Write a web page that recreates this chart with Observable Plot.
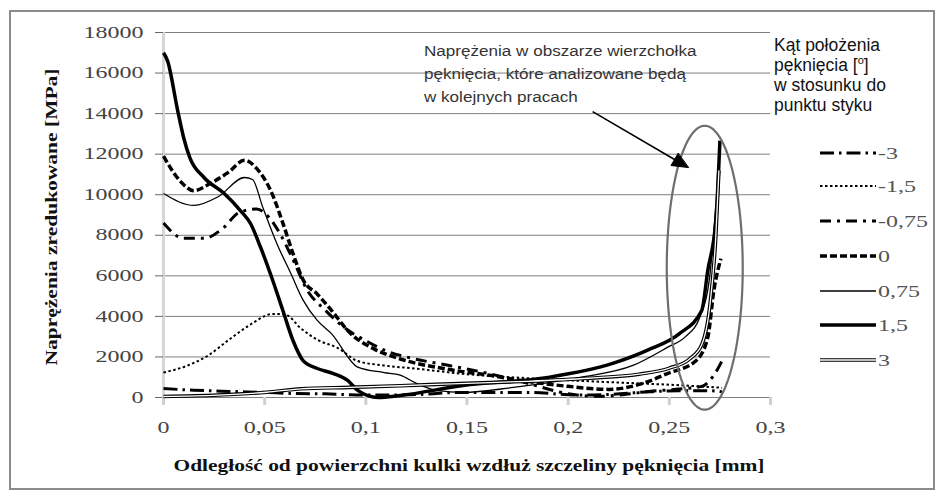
<!DOCTYPE html>
<html><head><meta charset="utf-8">
<script src="https://cdn.jsdelivr.net/npm/d3@7"></script>
<script src="https://cdn.jsdelivr.net/npm/@observablehq/plot@0.6"></script>
<style>body{margin:0;background:#fff}#chart{position:relative;width:943px;height:496px}</style>
</head><body><div id="chart"></div>
<script>
// ---- data ----
const seriesNames = ["-3", "-1,5", "-0,75", "0", "0,75", "1,5", "3"];
const xTicks = [0, 0.05, 0.1, 0.15, 0.2, 0.25, 0.3];
const xTickLabels = ["0", "0,05", "0,1", "0,15", "0,2", "0,25", "0,3"];
const yTicks = [0, 2000, 4000, 6000, 8000, 10000, 12000, 14000, 16000, 18000];
const yTickLabels = ["0", "2000", "4000", "6000", "8000", "10000", "12000", "14000", "16000", "18000"];

const angleM3 = [[0,440],[0.015,360],[0.033,300],[0.05,250],[0.064,200],[0.08,180],[0.1,120],[0.12,130],[0.148,250],[0.18,250],[0.206,120],[0.22,150],[0.24,280],[0.255,330],[0.27,330],[0.276,280]];
const angleM15 = [[0,1230],[0.012,1580],[0.022,2070],[0.033,2900],[0.043,3600],[0.054,4120],[0.06,4100],[0.068,3400],[0.076,2850],[0.086,2450],[0.096,1800],[0.109,1580],[0.124,1430],[0.15,1150],[0.19,900],[0.222,750],[0.256,600],[0.276,480]];
const angleM075 = [[0,8600],[0.01,7850],[0.02,7850],[0.03,8400],[0.037,9100],[0.046,9300],[0.052,8900],[0.058,8000],[0.064,6800],[0.071,5300],[0.08,4300],[0.09,3400],[0.1,2800],[0.11,2300],[0.12,2000],[0.14,1600],[0.16,1200],[0.18,700],[0.2,180],[0.215,60],[0.228,150],[0.24,300],[0.255,420],[0.266,550],[0.272,1100],[0.277,2000]];
const angle0 = [[0,11900],[0.008,10700],[0.015,10200],[0.023,10550],[0.032,11100],[0.04,11700],[0.046,11300],[0.053,10200],[0.059,8600],[0.064,7100],[0.069,5800],[0.076,5100],[0.083,4300],[0.092,3200],[0.104,2400],[0.117,1900],[0.14,1400],[0.162,1080],[0.176,850],[0.2,550],[0.22,400],[0.237,700],[0.249,1180],[0.263,1800],[0.269,2960],[0.272,5280],[0.2755,6850]];
const angleP075 = [[0,10060],[0.015,9470],[0.027,9900],[0.04,10850],[0.044,10750],[0.049,9400],[0.056,7600],[0.063,6100],[0.069,4800],[0.076,3800],[0.083,3150],[0.096,1500],[0.109,1230],[0.117,1100],[0.125,700],[0.135,350],[0.148,250],[0.173,500],[0.206,990],[0.232,1580],[0.249,2470],[0.258,3000],[0.265,3950],[0.27,6000],[0.273,9500]];
const angleP15 = [[0,17000],[0.002,16600],[0.007,14150],[0.010,12800],[0.013,11830],[0.02,10850],[0.03,10060],[0.038,9220],[0.043,8580],[0.048,7400],[0.054,5770],[0.059,4290],[0.064,2810],[0.069,1820],[0.076,1430],[0.084,1180],[0.091,840],[0.096,350],[0.106,0],[0.117,100],[0.148,590],[0.19,990],[0.222,1680],[0.239,2320],[0.255,3150],[0.266,4290],[0.269,6260],[0.273,8730],[0.275,12670]];
const angleP3 = [[0,50],[0.027,120],[0.051,260],[0.068,430],[0.092,500],[0.117,580],[0.15,700],[0.18,800],[0.21,950],[0.235,1150],[0.25,1450],[0.26,1900],[0.266,2600],[0.27,4500],[0.273,8000],[0.2745,11200]];

const annotationLines = ["Naprężenia w obszarze wierzchołka", "pęknięcia, które analizowane będą", "w kolejnych pracach"];
const legendTitle = ["Kąt położenia", "pęknięcia [", "w stosunku do", "punktu styku"];
const xTitle = "Odległość od powierzchni kulki wzdłuż szczeliny pęknięcia [mm]";
const yTitle = "Naprężenia zredukowane [MPa]";

// ---- build table ----
const seriesData = [angleM3, angleM15, angleM075, angle0, angleP075, angleP15, angleP3];
const rows = seriesNames.flatMap((s, i) => seriesData[i].map(([x, y]) => ({s, x, y})));

// line styles per series (layers)
const styles = {
  "-3":   [{w: 3, dash: "14,5,2.5,5"}],
  "-1,5": [{w: 2, dash: "2.5,2.5"}],
  "-0,75":[{w: 3, dash: "11,6,3,6"}],
  "0":    [{w: 3.5, dash: "7,3"}],
  "0,75": [{w: 1.3}],
  "1,5":  [{w: 3.5}],
  "3":    [{w: 3.6}, {w: 1.3, c: "#fff"}]
};

// annotation geometry in data units
const W = 943, H = 496, mL = 163, mR = 173, mT = 32, mB = 99;
const kx = (W - mL - mR) / 0.3, ky = (H - mT - mB) / 18000;
const ell = {cx: 0.2675, cy: 6400, rx: 38 / kx, ry: 142 / ky};
const ellipsePts = d3.range(0, 361, 4).map(a => ({x: ell.cx + ell.rx * Math.cos(a * Math.PI / 180), y: ell.cy + ell.ry * Math.sin(a * Math.PI / 180)}));
const arrow = {x1: 0.2121, y1: 14100, x2: 0.2594, y2: 11340};
// arrow head triangle
const adx = (arrow.x2 - arrow.x1) * kx, ady = -(arrow.y2 - arrow.y1) * ky;
const alen = Math.hypot(adx, ady), ux = adx / alen, uy = ady / alen;
const hl = 16, hw = 7;
const headPx = [[0, 0], [-hl * ux - hw * uy, -hl * uy + hw * ux], [-hl * ux + hw * uy, -hl * uy - hw * ux]];
const head = headPx.map(([px, py]) => ({x: arrow.x2 + px / kx, y: arrow.y2 - py / ky}));
const shaftEnd = {x: arrow.x2 - (hl - 2) * ux / kx, y: arrow.y2 + (hl - 2) * uy / ky};

const lineMarks = [];
for (const s of seriesNames) {
  for (const st of styles[s]) {
    lineMarks.push(Plot.line(rows.filter(d => d.s === s), {
      x: "x", y: "y", stroke: st.c || "#000", strokeWidth: st.w,
      strokeDasharray: st.dash, curve: "monotone-x", strokeLinecap: "butt"
    }));
  }
}

const plot = Plot.plot({
  width: W, height: H,
  marginLeft: mL, marginRight: mR, marginTop: mT, marginBottom: mB,
  x: {domain: [0, 0.3], label: null},
  y: {domain: [0, 18000], label: null},
  style: {background: "white", overflow: "visible"},
  marks: [
    Plot.gridY(yTicks, {stroke: "#7f7f7f", strokeOpacity: 1, strokeWidth: 1}),
    Plot.ruleX([0], {stroke: "#d6d6d6", strokeWidth: 3}),
    Plot.axisY(yTicks, {tickSize: 8, tickPadding: 12, stroke: "#666", fill: "#444",
      fontSize: 16, fontFamily: "Liberation Serif", tickFormat: d => yTickLabels[yTicks.indexOf(d)]}),
    Plot.axisX(xTicks, {tickSize: 8, tickPadding: 16, stroke: "#d0d0d0", strokeWidth: 3, fill: "#444",
      fontSize: 16, fontFamily: "Liberation Serif", tickFormat: d => xTickLabels[Math.round(d / 0.05)]}),
    ...lineMarks,
    Plot.line(ellipsePts, {x: "x", y: "y", stroke: "#6e6e6e", strokeWidth: 2.2, curve: "linear-closed"}),
    Plot.link([{x1: arrow.x1, y1: arrow.y1, x2: shaftEnd.x, y2: shaftEnd.y}], {x1: "x1", y1: "y1", x2: "x2", y2: "y2", stroke: "#000", strokeWidth: 1.6}),
    Plot.line(head, {x: "x", y: "y", fill: "#000", stroke: "#000", strokeWidth: 1, curve: "linear-closed"})
  ]
});

const chart = document.getElementById("chart");
chart.appendChild(plot);
const svg = d3.select(plot);

function stretch(sel, k) {
  sel.each(function () {
    const w = this.getComputedTextLength();
    this.setAttribute("textLength", w * k);
    this.setAttribute("lengthAdjust", "spacingAndGlyphs");
  });
}
stretch(svg.selectAll('g[aria-label="y-axis tick label"] text'), 1.5);
stretch(svg.selectAll('g[aria-label="x-axis tick label"] text'), 1.5);

// frame
svg.append("rect").attr("x", 10).attr("y", 11).attr("width", 924).attr("height", 478)
  .attr("fill", "none").attr("stroke", "#8c8c8c").attr("stroke-width", 2);

// axis titles
svg.append("text").attr("transform", "translate(51,217) rotate(-90)")
  .attr("text-anchor", "middle").attr("dominant-baseline", "central")
  .attr("font-family", "Liberation Serif").attr("font-weight", "bold").attr("font-size", 17)
  .attr("textLength", 297).attr("lengthAdjust", "spacingAndGlyphs").attr("fill", "#111").text(yTitle);
svg.append("text").attr("x", 469).attr("y", 471).attr("text-anchor", "middle")
  .attr("font-family", "Liberation Serif").attr("font-weight", "bold").attr("font-size", 17)
  .attr("textLength", 591).attr("lengthAdjust", "spacingAndGlyphs").attr("fill", "#111").text(xTitle);

// annotation text
const ann = svg.append("g").attr("text-anchor", "start").attr("font-family", "Liberation Sans").attr("font-size", 14).attr("fill", "#333");
annotationLines.forEach((t, i) => {
  ann.append("text").attr("x", 424).attr("y", 56 + i * 23).text(t);
});
stretch(ann.selectAll("text"), 1.22);

// legend title
const lt = svg.append("g").attr("text-anchor", "start").attr("font-family", "Liberation Sans").attr("font-size", 17.5).attr("fill", "#111");
legendTitle.forEach((t, i) => {
  const el = lt.append("text").attr("x", 774).attr("y", 51 + i * 20);
  if (i === 1) {
    el.append("tspan").text(t);
    el.append("tspan").attr("font-size", 11).attr("dy", -7).text("o");
    el.append("tspan").attr("dy", 7).text("]");
  } else el.text(t);
});

// legend entries
const legY = [153, 186, 221, 256, 291, 325, 360];
const lg = svg.append("g").attr("text-anchor", "start");
seriesNames.forEach((s, i) => {
  for (const st of styles[s]) {
    lg.append("line").attr("x1", 820).attr("x2", 876).attr("y1", legY[i]).attr("y2", legY[i])
      .attr("stroke", st.c || "#000").attr("stroke-width", st.w)
      .attr("stroke-dasharray", st.dash || null);
  }
  lg.append("text").attr("x", 878).attr("y", legY[i] + 6)
    .attr("font-family", "Liberation Serif").attr("font-size", 16).attr("fill", "#555").text(s);
});
stretch(lg.selectAll("text"), 1.5);
</script>
</body></html>
